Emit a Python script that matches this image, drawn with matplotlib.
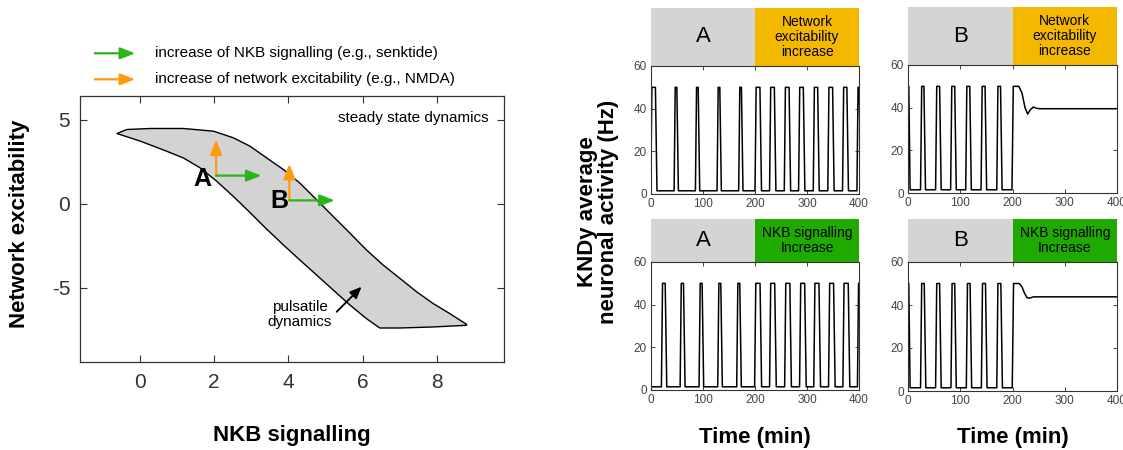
import matplotlib
matplotlib.use("Agg")
import matplotlib.pyplot as plt
import numpy as np

plt.rcParams['font.family'] = ['Liberation Sans', 'DejaVu Sans']
plt.rcParams['axes.unicode_minus'] = False

# ---------------- data: left phase diagram ----------------
upper_x = [-0.61, -0.34, 0.29, 1.18, 1.99, 2.52, 2.97, 3.42, 3.87, 4.31, 4.76, 5.21, 5.66, 6.10, 6.55, 7.00, 7.45, 7.89, 8.34, 8.79]
upper_y = [4.17, 4.41, 4.47, 4.47, 4.31, 3.92, 3.42, 2.72, 2.03, 1.23, 0.24, -0.76, -1.75, -2.74, -3.64, -4.43, -5.23, -5.92, -6.52, -7.16]
lower_x = [-0.52, 0.02, 0.73, 1.18, 1.63, 2.08, 2.52, 2.97, 3.42, 3.87, 4.31, 4.76, 5.21, 5.66, 6.10, 6.46, 7.00, 7.89, 8.79]
lower_y = [4.11, 3.72, 3.12, 2.72, 2.13, 1.33, 0.44, -0.52, -1.51, -2.45, -3.34, -4.23, -5.13, -6.02, -6.82, -7.38, -7.38, -7.32, -7.22]

point_A = (2.06, 1.67)
point_B = (4.03, 0.20)
A_up_to = 3.82
A_right_to = 3.28
B_up_to = 2.37
B_right_to = 5.25

x_ticks = [0, 2, 4, 6, 8]
y_ticks = [-5, 0, 5]

# ---------------- data: time traces ----------------
base_level = 1.5
peak_level = 50.0
# (onset, offset) times of each pulse, min
A_net_on = [0.5, 45.4, 86.4, 128.0, 169.6, 201.0, 229.0, 257.3, 284.8, 313.0, 341.0, 369.3, 397.0]
A_net_off = [10.0, 51.2, 92.2, 133.8, 175.4, 211.0, 238.7, 267.0, 294.4, 322.0, 350.7, 378.2, 402.0]

B_net_on = [25.0, 53.8, 82.6, 111.4, 140.8, 170.9]
B_net_off = [32.0, 62.0, 90.9, 119.7, 149.0, 178.6]
B_net_start_fall = 2.5
B_net_tail_t = [199.0, 201.5, 212.0, 218.0, 224.0, 229.0, 234.0, 240.0, 246.0, 252.0, 400.0]
B_net_tail_y = [1.5, 50.0, 50.0, 47.0, 40.0, 37.0, 39.0, 40.3, 39.7, 39.5, 39.5]

A_nkb_on = [21.0, 57.0, 93.4, 129.3, 165.8, 200.3, 229.0, 258.0, 286.7, 314.0, 342.4, 370.0, 398.0]
A_nkb_off = [28.8, 64.0, 99.8, 135.7, 172.2, 211.2, 239.4, 268.5, 297.0, 324.5, 352.6, 380.8, 402.0]

B_nkb_on = [25.0, 53.8, 83.2, 112.6, 141.4, 170.9]
B_nkb_off = [32.6, 62.0, 90.9, 120.3, 149.8, 179.2]
B_nkb_start_fall = 2.5
B_nkb_tail_t = [199.5, 202.0, 213.0, 218.0, 223.0, 228.0, 233.0, 240.0, 400.0]
B_nkb_tail_y = [1.5, 50.0, 50.0, 48.5, 45.5, 43.3, 43.2, 43.8, 43.8]

header_split = 200
t_max = 400

# ---------------- helpers ----------------
def pulse_train(on, off, start_high=None):
    ts, ys = [], []
    if start_high is not None:
        ts += [0, start_high - 1.0, start_high + 1.5]
        ys += [peak_level, peak_level, base_level]
    else:
        ts += [0]
        ys += [base_level]
    for a, b in zip(on, off):
        ts += [a - 1.0, a + 1.2, b - 1.5, b + 1.5]
        ys += [base_level, peak_level, peak_level, base_level]
    return ts, ys

W, H = 1123, 450
fig = plt.figure(figsize=(W / 100, H / 100), dpi=100)

def px_axes(x0, y0, x1, y1):
    return fig.add_axes([x0 / W, (H - y1) / H, (x1 - x0) / W, (y1 - y0) / H])

def fig_text(x, y, s, **kw):
    return fig.text(x / W, 1 - y / H, s, **kw)

spine_col = '#333333'

# ---------------- left panel ----------------
ax = px_axes(80, 96, 504, 362)
poly_x = upper_x + lower_x[::-1]
poly_y = upper_y + lower_y[::-1]
ax.fill(poly_x, poly_y, facecolor='#d3d3d3', edgecolor='black', lw=1.0, zorder=1)
ax.set_xlim(-1.6, 9.8)
ax.set_ylim(-9.4, 6.4)
ax.set_xticks(x_ticks)
ax.set_yticks(y_ticks)
ax.tick_params(direction='in', top=True, right=True, length=5, width=0.8,
               labelsize=15, colors=spine_col)
ax.tick_params(axis='x', pad=8)
ax.tick_params(axis='y', pad=7)
for s in ax.spines.values():
    s.set_color(spine_col)
    s.set_linewidth(0.9)
fig_text(292, 435, 'NKB signalling', fontsize=16, fontweight='bold', ha='center', va='center')
fig_text(20, 224, 'Network excitability', fontsize=16, fontweight='bold', ha='center',
         va='center', rotation=90)

green = '#2ab51a'
orange = '#ff9a10'
def arrow(axx, x0, y0, x1, y1, c):
    axx.annotate('', xy=(x1, y1), xytext=(x0, y0),
                 arrowprops=dict(arrowstyle='-|>,head_length=0.9,head_width=0.35',
                                 color=c, lw=1.6, shrinkA=0, shrinkB=0), zorder=3)

arrow(ax, point_A[0], point_A[1], point_A[0], A_up_to, orange)
arrow(ax, point_A[0], point_A[1], A_right_to, point_A[1], green)
arrow(ax, point_B[0], point_B[1], point_B[0], B_up_to, orange)
arrow(ax, point_B[0], point_B[1], B_right_to, point_B[1], green)
ax.text(1.69, 1.47, 'A', fontsize=18, fontweight='bold', ha='center', va='center', zorder=4)
ax.text(3.76, 0.14, 'B', fontsize=18, fontweight='bold', ha='center', va='center', zorder=4)
ax.text(9.4, 5.1, 'steady state dynamics', fontsize=11, ha='right', va='center')
ax.text(4.31, -6.56, 'pulsatile\ndynamics', fontsize=11, ha='center', va='center', linespacing=1.1)
ax.annotate('', xy=(5.97, -4.93), xytext=(5.3, -6.42),
            arrowprops=dict(arrowstyle='-|>,head_length=0.7,head_width=0.3', color='black', lw=1.3,
                            shrinkA=0, shrinkB=0))

# legend above
def fig_arrow(x0, x1, y, c):
    fig.patches.append(matplotlib.patches.FancyArrowPatch(
        (x0 / W, 1 - y / H), (x1 / W, 1 - y / H), transform=fig.transFigure,
        arrowstyle='-|>,head_length=0.9,head_width=0.35', color=c, lw=1.6, mutation_scale=10))

fig_arrow(92, 138, 53.3, green)
fig_arrow(92, 138, 79.3, orange)
fig_text(155, 53.3, 'increase of NKB signalling (e.g., senktide)', fontsize=11, va='center')
fig_text(155, 79.3, 'increase of network excitability (e.g., NMDA)', fontsize=11, va='center')

# ---------------- right panels ----------------
gray_hdr = '#d4d4d4'
orange_hdr = '#f5b800'
green_hdr = '#1faa00'

panels = [
    (651, 859, 8, 66, 194, 'A', 'Network\nexcitability\nincrease', orange_hdr),
    (908, 1117, 7, 65, 193, 'B', 'Network\nexcitability\nincrease', orange_hdr),
    (651, 859, 219, 262, 390, 'A', 'NKB signalling\nIncrease', green_hdr),
    (908, 1117, 219, 262, 391, 'B', 'NKB signalling\nIncrease', green_hdr),
]

traces = [
    pulse_train(A_net_on, A_net_off),
    (pulse_train(B_net_on, B_net_off, start_high=B_net_start_fall)[0] + B_net_tail_t,
     pulse_train(B_net_on, B_net_off, start_high=B_net_start_fall)[1] + B_net_tail_y),
    pulse_train(A_nkb_on, A_nkb_off),
    (pulse_train(B_nkb_on, B_nkb_off, start_high=B_nkb_start_fall)[0] + B_nkb_tail_t,
     pulse_train(B_nkb_on, B_nkb_off, start_high=B_nkb_start_fall)[1] + B_nkb_tail_y),
]

for i, ((x0, x1, ht, at, ab, letter, lab, col), (ts, ys)) in enumerate(zip(panels, traces)):
    hax = px_axes(x0, ht, x1, at)
    hax.axvspan(0, header_split, color=gray_hdr, lw=0)
    hax.axvspan(header_split, t_max, color=col, lw=0)
    hax.set_xlim(0, t_max)
    hax.set_ylim(0, 1)
    hax.axis('off')
    hax.text(header_split / 2, 0.5, letter, fontsize=16, ha='center', va='center')
    hax.text((header_split + t_max) / 2, 0.5, lab, fontsize=10, ha='center', va='center',
             linespacing=1.05)

    a = px_axes(x0, at, x1, ab)
    a.plot(ts, ys, color='black', lw=1.1)
    a.set_xlim(0, t_max)
    a.set_ylim(0, 60)
    a.set_xticks([0, 100, 200, 300, 400])
    a.set_yticks([0, 20, 40, 60])
    a.tick_params(direction='in', top=True, right=True, length=3, width=0.7,
                  labelsize=8.5, colors='#444444', pad=3)
    for s in a.spines.values():
        s.set_color(spine_col)
        s.set_linewidth(0.8)
    if i >= 2:
        fig_text((x0 + x1) / 2, 437, 'Time (min)', fontsize=16, fontweight='bold',
                 ha='center', va='center')

fig_text(598, 212, 'KNDy average\nneuronal activity (Hz)', fontsize=16,
         fontweight='bold', rotation=90, ha='center', va='center', linespacing=1.0)

fig.savefig('out.png', dpi=100)
